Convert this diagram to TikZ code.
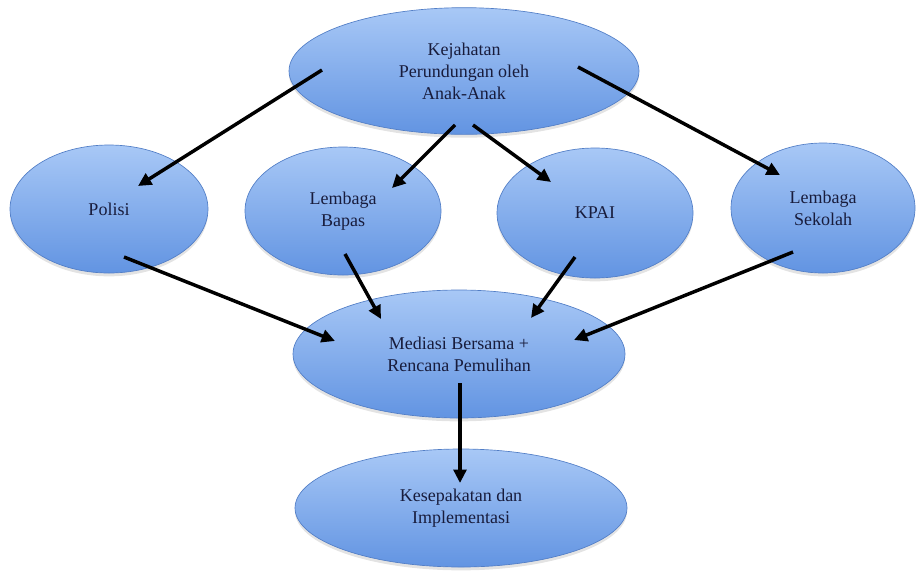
\documentclass[tikz,border=0pt]{standalone}
\usepackage{fontspec}
\setmainfont{Liberation Serif}
\definecolor{bubbletop}{RGB}{168, 200, 246}
\definecolor{bubblebottom}{RGB}{98, 148, 226}
\definecolor{bubbleedge}{RGB}{82, 126, 198}
\definecolor{labelnavy}{RGB}{24, 28, 60}
\usepackage{tikz}
\usetikzlibrary{shapes.geometric, arrows.meta, calc, shadows}

\begin{document}
\begin{tikzpicture}[x=0.75pt, y=-0.75pt,
  bubble/.style={ellipse, draw=bubbleedge, line width=0.5pt,
    top color=bubbletop, bottom color=bubblebottom, text=labelnavy,
    font=\fontsize{13.5}{16.5}\selectfont, align=center, inner sep=0pt,
    drop shadow={shadow xshift=0pt, shadow yshift=-2.5pt, opacity=0.22}},
  flow/.style={line width=2.6pt, -{Triangle[length=10pt, width=9.5pt]}}]
  \useasboundingbox (0, 0) rectangle (916, 576);

  % === ellipses ===
  \node[bubble, minimum width=262.5pt, minimum height=95pt] (kejahatan) at (464, 71)
    {Kejahatan\\Perundungan oleh\\Anak-Anak};
  \node[bubble, minimum width=148.5pt, minimum height=96pt] (polisi) at (109, 209) {Polisi};
  \node[bubble, minimum width=147pt, minimum height=96pt] (bapas) at (343, 211) {Lembaga\\Bapas};
  \node[bubble, minimum width=147pt, minimum height=97.5pt] (kpai) at (595, 213) {KPAI};
  \node[bubble, minimum width=138pt, minimum height=97.5pt] (sekolah) at (823, 208) {Lembaga\\Sekolah};
  \node[bubble, minimum width=249pt, minimum height=96pt] (mediasi) at (459, 354)
    {Mediasi Bersama +\\Rencana Pemulihan};
  \node[bubble, minimum width=249pt, minimum height=88.5pt] (sepakat) at (461, 508)
    {Kesepakatan dan\\Implementasi};

  % === arrows out of the top ellipse ===
  \draw[flow] ($(kejahatan.center)+(-142, -1)$) -- ($(polisi.center)+(29, -23)$);
  \draw[flow] ($(kejahatan.center)+(-9, 54)$) -- ($(bapas.center)+(49, -23)$);
  \draw[flow] ($(kejahatan.center)+(9, 54)$) -- ($(kpai.center)+(-44, -31)$);
  \draw[flow] ($(kejahatan.center)+(114, -4)$) -- ($(sekolah.center)+(-43, -33)$);

  % === arrows into the mediation ===
  \draw[flow] ($(polisi.center)+(15, 48)$) -- ($(mediasi.center)+(-124, -13)$);
  \draw[flow] ($(bapas.center)+(2, 43)$) -- ($(mediasi.center)+(-78, -35)$);
  \draw[flow] ($(kpai.center)+(-20, 44)$) -- ($(mediasi.center)+(72, -36)$);
  \draw[flow] ($(sekolah.center)+(-30, 44)$) -- ($(mediasi.center)+(115, -14)$);

  % === last step ===
  \draw[flow] ($(mediasi.center)+(1, 29)$) -- ($(sepakat.center)+(-1, -25)$);
\end{tikzpicture}
\end{document}
